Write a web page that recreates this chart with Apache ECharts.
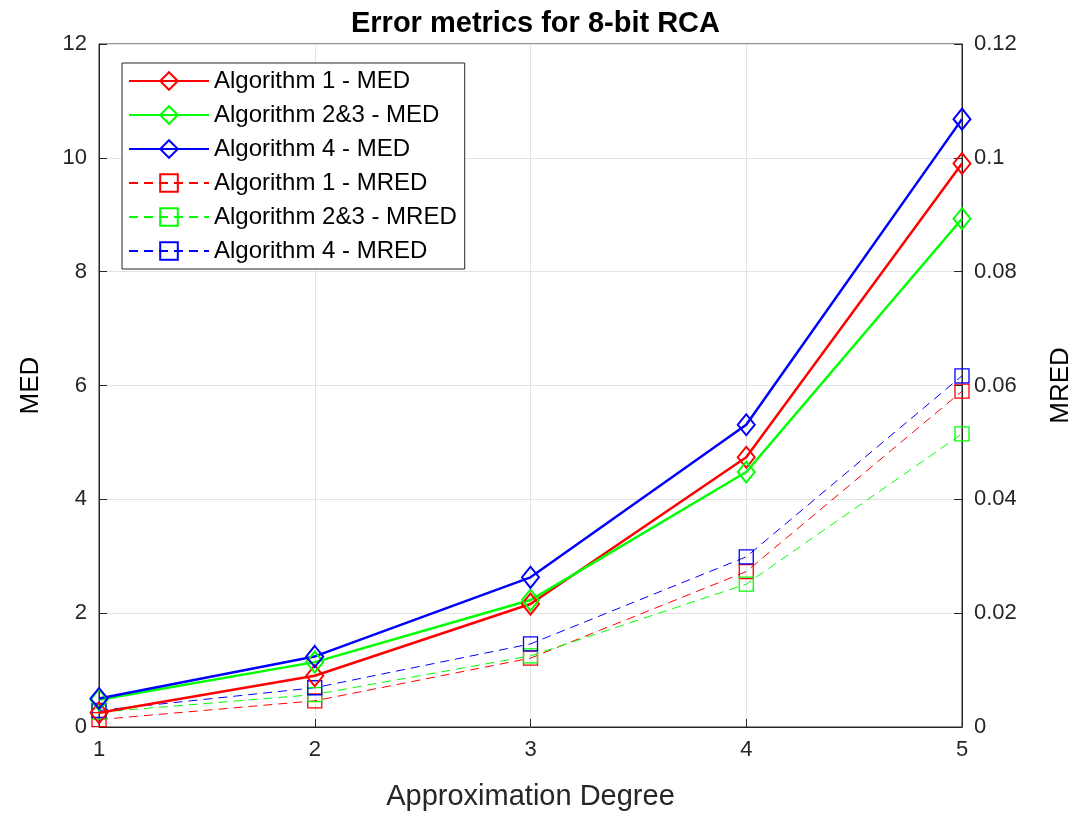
<!DOCTYPE html>
<html>
<head>
<meta charset="utf-8">
<script src="https://cdn.jsdelivr.net/npm/echarts@6/dist/echarts.min.js"></script>
<style>html,body{margin:0;padding:0;background:#fff;overflow:hidden}#c{width:1071px;height:813px}</style>
</head>
<body>
<div id="c"></div>
<script>
const degrees = [1, 2, 3, 4, 5];
const alg1MED = [0.25, 0.9, 2.16, 4.74, 9.9];
const alg23MED = [0.48, 1.14, 2.23, 4.48, 8.93];
const alg4MED = [0.5, 1.24, 2.63, 5.31, 10.68];
const alg1MRED = [0.0013, 0.0046, 0.0121, 0.0273, 0.059];
const alg23MRED = [0.0026, 0.0057, 0.0125, 0.0251, 0.0515];
const alg4MRED = [0.0029, 0.0069, 0.0146, 0.0299, 0.0617];
const names = ['Algorithm 1 - MED', 'Algorithm 2&3 - MED', 'Algorithm 4 - MED',
               'Algorithm 1 - MRED', 'Algorithm 2&3 - MRED', 'Algorithm 4 - MRED'];

const FONT = 'Liberation Sans, Arial, sans-serif';
const pairs = arr => degrees.map((d, i) => [d, arr[i]]);

function medSeries(name, arr, color) {
  return {
    name, type: 'line', data: pairs(arr), yAxisIndex: 0,
    symbol: 'diamond', symbolSize: [17, 21],
    lineStyle: { color, width: 2.5 },
    itemStyle: { color: 'rgba(255,255,255,0)', borderColor: color, borderWidth: 2 },
    z: 3
  };
}
function mredSeries(name, arr, color) {
  return {
    name, type: 'line', data: pairs(arr), yAxisIndex: 1,
    symbol: 'rect', symbolSize: 14,
    lineStyle: { color, width: 1, type: [9, 6] },
    itemStyle: { color: 'rgba(255,255,255,0)', borderColor: color, borderWidth: 1.3 },
    z: 2
  };
}

const chart = echarts.init(document.getElementById('c'), null, { renderer: 'canvas' });
chart.setOption({
  backgroundColor: '#ffffff',
  animation: false,
  title: {
    text: 'Error metrics for 8-bit RCA', left: 'center', top: 4,
    textStyle: { fontFamily: FONT, fontSize: 29, fontWeight: 'bold', color: '#000' }
  },
  grid: { left: 99, right: 109, top: 44, bottom: 86, outerBoundsMode: 'none', containLabel: false,
          show: true, borderColor: '#262626', borderWidth: 1, backgroundColor: 'transparent' },
  legend: {
    data: names, orient: 'vertical', left: 122, top: 63,
    padding: [6, 8, 6, 6],
    itemWidth: 80, itemHeight: 22, itemGap: 10,
    backgroundColor: '#fff', borderColor: '#262626', borderWidth: 1,
    textStyle: { fontFamily: FONT, fontSize: 24, color: '#000' }
  },
  xAxis: {
    type: 'value', min: 1, max: 5, interval: 1,
    name: 'Approximation Degree', nameLocation: 'middle', nameGap: 55,
    nameTextStyle: { fontFamily: FONT, fontSize: 29, color: '#262626' },
    axisLine: { show: true, lineStyle: { color: '#262626' } },
    axisTick: { show: true, inside: true, length: 8, lineStyle: { color: '#262626' } },
    axisLabel: { fontFamily: FONT, fontSize: 22, color: '#262626', margin: 12 },
    splitLine: { show: true, lineStyle: { color: '#e3e3e3', width: 1 } }
  },
  yAxis: [
    {
      type: 'value', min: 0, max: 12, interval: 2, position: 'left',
      name: 'MED', nameLocation: 'middle', nameGap: 55, nameRotate: 90,
      nameTextStyle: { fontFamily: FONT, fontSize: 26, color: '#000' },
      axisLine: { show: true, lineStyle: { color: '#262626' } },
      axisTick: { show: true, inside: true, length: 8, lineStyle: { color: '#262626' } },
      axisLabel: { fontFamily: FONT, fontSize: 22, color: '#262626', margin: 12 },
      splitLine: { show: true, lineStyle: { color: '#e3e3e3', width: 1 } }
    },
    {
      type: 'value', min: 0, max: 0.12, interval: 0.02, position: 'right',
      name: 'MRED', nameLocation: 'middle', nameGap: 86, nameRotate: 90,
      nameTextStyle: { fontFamily: FONT, fontSize: 26, color: '#000' },
      axisLine: { show: true, lineStyle: { color: '#262626' } },
      axisTick: { show: true, inside: true, length: 8, lineStyle: { color: '#262626' } },
      axisLabel: { fontFamily: FONT, fontSize: 22, color: '#262626', margin: 12 },
      splitLine: { show: false }
    }
  ],
  series: [
    medSeries(names[0], alg1MED, '#ff0000'),
    medSeries(names[1], alg23MED, '#00ff00'),
    medSeries(names[2], alg4MED, '#0000ff'),
    mredSeries(names[3], alg1MRED, '#ff0000'),
    mredSeries(names[4], alg23MRED, '#00ff00'),
    mredSeries(names[5], alg4MRED, '#0000ff')
  ]
});
</script>
</body>
</html>
